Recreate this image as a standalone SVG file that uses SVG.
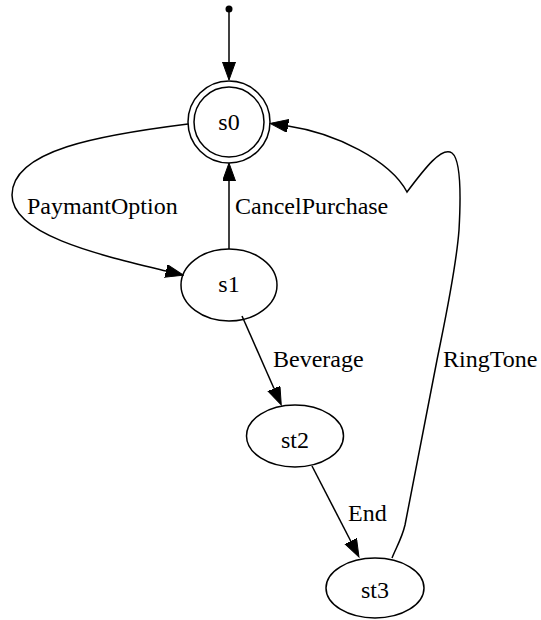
<svg xmlns="http://www.w3.org/2000/svg" width="541" height="620" viewBox="0 0 541 620">
<style>
.n{fill:none;stroke:#000;stroke-width:1.5}
.e{fill:none;stroke:#000;stroke-width:1.5}
text{font-family:"Liberation Serif","Times New Roman",serif;font-size:24px;fill:#000}
.c{text-anchor:middle}
</style>
<defs>
<marker id="ah" markerUnits="userSpaceOnUse" markerWidth="19" markerHeight="14" refX="0" refY="6.5" orient="auto" viewBox="0 0 19 14">
<path d="M0,0 L18,6.5 L0,13 z" fill="#000" stroke="#000" stroke-width="1"/>
</marker>
</defs>
<g id="edges">
<path class="e" d="M229,9 L229,62" marker-end="url(#ah)"/>
<path class="e" d="M188,124 C100,135 12,150 12,195 C12,235 100,255 166,271" marker-end="url(#ah)"/>
<path class="e" d="M229,249 L229,181" marker-end="url(#ah)"/>
<path class="e" d="M242,316 L274,388.5" marker-end="url(#ah)"/>
<path class="e" d="M312,466 L350.7,541" marker-end="url(#ah)"/>
<path class="e" d="M392,558 C396,548 402,538 405,525 L437,360 C445,320 456,270 459,230 C461,195 461,160 452,153 C442,146 425,168 407,192 C390,160 335,133 288,126" marker-end="url(#ah)"/>
<text x="27" y="214">PaymantOption</text>
<text x="235" y="214">CancelPurchase</text>
<text x="273" y="367">Beverage</text>
<text x="443" y="367">RingTone</text>
<text x="348" y="521">End</text>
</g>
<g id="start"><circle cx="229" cy="9" r="3.5" fill="#000"/></g>
<g id="s0">
<circle class="n" cx="229" cy="122" r="41"/>
<circle class="n" cx="229" cy="122" r="35"/>
<text class="c" x="229" y="130">s0</text>
</g>
<g id="s1">
<ellipse class="n" cx="229" cy="285" rx="48" ry="36"/>
<text class="c" x="229" y="292">s1</text>
</g>
<g id="st2">
<ellipse class="n" cx="295" cy="436" rx="48.5" ry="31"/>
<text class="c" x="295" y="448">st2</text>
</g>
<g id="st3">
<ellipse class="n" cx="375" cy="588" rx="49" ry="30"/>
<text class="c" x="375" y="598">st3</text>
</g>
</svg>
